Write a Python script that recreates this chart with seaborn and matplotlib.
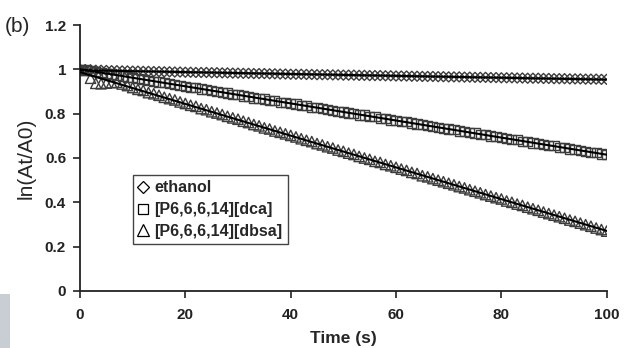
import matplotlib
matplotlib.use("Agg")
import matplotlib.pyplot as plt
import seaborn as sns
import pandas as pd
from matplotlib.lines import Line2D
from matplotlib.patches import Rectangle

time_s = list(range(0, 101))

ethanol = [1.000, 0.999, 0.998, 0.996, 0.996, 0.995, 0.994, 0.994, 0.993, 0.993,
           0.992, 0.992, 0.991, 0.991, 0.990, 0.990, 0.989, 0.989, 0.988, 0.988,
           0.987, 0.987, 0.986, 0.986, 0.986, 0.985, 0.985, 0.984, 0.984, 0.983,
           0.983, 0.982, 0.982, 0.981, 0.981, 0.981, 0.980, 0.980, 0.979, 0.979,
           0.978, 0.978, 0.978, 0.977, 0.977, 0.976, 0.976, 0.976, 0.975, 0.975,
           0.974, 0.974, 0.974, 0.973, 0.973, 0.972, 0.972, 0.972, 0.971, 0.971,
           0.970, 0.970, 0.970, 0.969, 0.969, 0.968, 0.968, 0.968, 0.967, 0.967,
           0.966, 0.966, 0.966, 0.965, 0.965, 0.964, 0.964, 0.964, 0.963, 0.963,
           0.962, 0.962, 0.962, 0.961, 0.961, 0.960, 0.960, 0.960, 0.959, 0.959,
           0.958, 0.958, 0.958, 0.957, 0.957, 0.957, 0.956, 0.956, 0.956, 0.955, 0.955]

dca = [1.000, 0.998, 0.994, 0.990, 0.986, 0.982, 0.979, 0.975, 0.970, 0.966,
       0.962, 0.959, 0.953, 0.951, 0.946, 0.943, 0.939, 0.936, 0.930, 0.928,
       0.924, 0.918, 0.917, 0.911, 0.909, 0.903, 0.901, 0.896, 0.893, 0.887,
       0.886, 0.880, 0.879, 0.871, 0.870, 0.866, 0.860, 0.859, 0.852, 0.851,
       0.846, 0.844, 0.837, 0.836, 0.829, 0.828, 0.823, 0.818, 0.816, 0.810,
       0.808, 0.803, 0.801, 0.794, 0.794, 0.787, 0.786, 0.779, 0.778, 0.771,
       0.770, 0.765, 0.763, 0.758, 0.753, 0.752, 0.745, 0.743, 0.738, 0.733,
       0.731, 0.727, 0.722, 0.721, 0.714, 0.713, 0.706, 0.705, 0.699, 0.697,
       0.692, 0.689, 0.683, 0.682, 0.675, 0.674, 0.668, 0.666, 0.660, 0.657,
       0.655, 0.649, 0.647, 0.641, 0.639, 0.634, 0.631, 0.626, 0.624, 0.618, 0.616]

dbsa = [1.000, 0.995, 0.960, 0.937, 0.935, 0.938, 0.940, 0.942, 0.934, 0.927,
        0.918, 0.910, 0.905, 0.895, 0.890, 0.883, 0.874, 0.868, 0.862, 0.853,
        0.846, 0.838, 0.833, 0.823, 0.818, 0.809, 0.803, 0.796, 0.788, 0.781,
        0.775, 0.766, 0.760, 0.751, 0.745, 0.736, 0.731, 0.722, 0.716, 0.709,
        0.702, 0.695, 0.687, 0.680, 0.674, 0.665, 0.659, 0.651, 0.645, 0.636,
        0.630, 0.622, 0.616, 0.607, 0.600, 0.594, 0.585, 0.580, 0.571, 0.565,
        0.558, 0.550, 0.544, 0.535, 0.530, 0.520, 0.515, 0.507, 0.500, 0.493,
        0.486, 0.479, 0.471, 0.465, 0.457, 0.450, 0.443, 0.435, 0.428, 0.421,
        0.415, 0.406, 0.400, 0.392, 0.386, 0.378, 0.371, 0.364, 0.356, 0.349,
        0.342, 0.335, 0.328, 0.320, 0.314, 0.306, 0.299, 0.292, 0.284, 0.277, 0.270]

series_names = ["ethanol", "[P6,6,6,14][dca]", "[P6,6,6,14][dbsa]"]
x_ticks = [0, 20, 40, 60, 80, 100]
y_ticks = [0, 0.2, 0.4, 0.6, 0.8, 1, 1.2]
y_tick_labels = ["0", "0.2", "0.4", "0.6", "0.8", "1", "1.2"]

sns.set_style("ticks")
plt.rcParams["font.family"] = ["Liberation Sans", "DejaVu Sans"]

fig = plt.figure(figsize=(6.3, 3.48), dpi=100)
ax = fig.add_axes([0.127, 0.164, 0.836, 0.764])

markers = ["D", "s", "^"]
sizes = [26, 44, 56]
edge = "#3c3c3c"
for name, vals, mk, sz in zip(series_names, [ethanol, dca, dbsa], markers, sizes):
    df = pd.DataFrame({"t": time_s, "v": vals})
    sns.scatterplot(data=df, x="t", y="v", marker=mk, s=sz, facecolor="none",
                    edgecolor=edge, linewidth=1.0, ax=ax, legend=False, zorder=2)
    sns.regplot(data=df, x="t", y="v", scatter=False, ci=None, ax=ax,
                line_kws={"color": "black", "lw": 1.5, "zorder": 3}, truncate=True)

ax.set_xlim(0, 100)
ax.set_ylim(0, 1.2)
ax.set_xticks(x_ticks)
ax.set_yticks(y_ticks)
ax.set_yticklabels(y_tick_labels)
for s in ["top", "right"]:
    ax.spines[s].set_visible(False)
for s in ["left", "bottom"]:
    ax.spines[s].set_linewidth(1.3)
    ax.spines[s].set_color("#222222")
ax.tick_params(axis="both", direction="out", length=5, width=1.2, colors="#222222",
               labelsize=11)
ax.tick_params(axis="y", pad=5)
ax.tick_params(axis="x", pad=7)
for lab in ax.get_xticklabels() + ax.get_yticklabels():
    lab.set_fontweight("bold")
ax.set_xlabel("Time (s)", fontsize=12.5, fontweight="bold", labelpad=7)
ax.set_ylabel("ln(At/A0)", fontsize=15, fontweight="normal")
ax.yaxis.set_label_coords(-0.085, 0.5)

handles = [Line2D([], [], linestyle="none", marker=m, markersize=ms,
                  markerfacecolor="none", markeredgecolor="black", markeredgewidth=0.9)
           for m, ms in zip(markers, [6, 7.5, 8])]
leg = ax.legend(handles, series_names, loc="lower left", bbox_to_anchor=(0.085, 0.145),
                frameon=True, fancybox=False, framealpha=1, edgecolor="#444444",
                prop={"weight": "bold", "size": 11.5}, handlelength=0.6,
                handletextpad=0.4, borderpad=0.35, labelspacing=0.42)
leg.get_frame().set_linewidth(1.0)

fig.text(0.008, 0.925, "(b)", fontsize=15, ha="left", va="center")
fig.patches.append(Rectangle((0, 0), 0.016, 0.155, transform=fig.transFigure,
                             facecolor="#c9ced4", edgecolor="none"))

fig.savefig("out.png", dpi=100)
